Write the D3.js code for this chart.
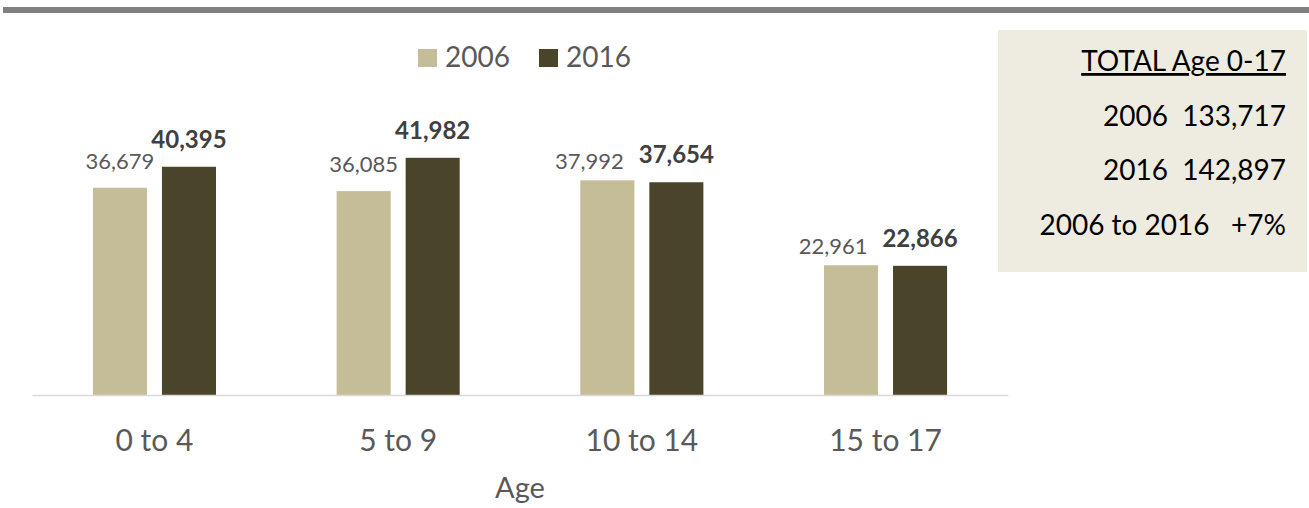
<!DOCTYPE html>
<html><head><meta charset="utf-8">
<script src="https://cdn.jsdelivr.net/npm/d3@7"></script>
<style>
html,body{margin:0;padding:0;background:#fff;}
svg{display:block;font-family:Lato,"Open Sans",sans-serif;}
</style></head>
<body>
<svg id="chart" width="1309" height="508"></svg>
<script>
const categories = ["0 to 4", "5 to 9", "10 to 14", "15 to 17"];
const seriesNames = ["2006", "2016"];
const values2006 = [36679, 36085, 37992, 22961];
const values2016 = [40395, 41982, 37654, 22866];
const colors = ["#c4bd97", "#4a452a"];
const totalLines = [
  {label: "TOTAL Age 0-17", underline: true},
  {label: "2006  133,717"},
  {label: "2016  142,897"},
  {label: "2006 to 2016   +7%"}
];

const svg = d3.select("#chart");
const fmt = d3.format(",");

// top rule
svg.append("rect").attr("x", 3).attr("y", 7).attr("width", 1306).attr("height", 6).attr("fill", "#808080");

const x0 = d3.scaleBand().domain(categories).range([32, 1008]).paddingInner(0.495).paddingOuter(0.25);
const x1 = d3.scaleBand().domain(seriesNames).range([0, x0.bandwidth()]).paddingInner(0.217).paddingOuter(0);
const y = d3.scaleLinear().domain([0, 50000]).range([395, 112.5]);

const data = categories.map((c, i) => ({cat: c, vals: [values2006[i], values2016[i]]}));

const g = svg.append("g");
const groups = g.selectAll("g.grp").data(data).join("g").attr("class", "grp")
  .attr("transform", d => `translate(${x0(d.cat)},0)`);

groups.selectAll("rect").data(d => d.vals.map((v, j) => ({s: seriesNames[j], v, j})))
  .join("rect")
  .attr("x", d => x1(d.s)).attr("width", x1.bandwidth())
  .attr("y", d => y(d.v)).attr("height", d => y(0) - y(d.v))
  .attr("fill", d => colors[d.j]);

groups.each(function() {
  const grp = d3.select(this);
  const labels = grp.selectAll("text.val").data(d => d.vals.map((v, j) => ({s: seriesNames[j], v, j})))
    .join("text").attr("class", "val")
    .attr("x", d => x1(d.s) + x1.bandwidth() / 2)
    .attr("y", d => y(d.v) - 19)
    .attr("text-anchor", "middle")
    .attr("font-size", d => d.j === 0 ? 22 : 24)
    .attr("font-weight", d => d.j === 0 ? "normal" : "bold")
    .attr("fill", d => d.j === 0 ? "#595959" : "#404040")
    .text(d => fmt(d.v));
  // Excel-style collision avoidance: nudge the 2006 label left/down when it would collide with the 2016 label
  const nodes = labels.nodes();
  const y0b = +nodes[0].getAttribute("y"), y1b = +nodes[1].getAttribute("y");
  const b0 = nodes[0].getBBox(), b1 = nodes[1].getBBox();
  if (Math.abs(y0b - y1b) < 17 && b0.x + b0.width > b1.x - 4) {
    const d0 = d3.select(nodes[0]);
    d0.attr("x", +d0.attr("x") - 18).attr("y", +d0.attr("y") + 8);
  }
});

// x axis
const xAxis = svg.append("g").attr("transform", "translate(0,395)")
  .call(d3.axisBottom(x0).tickSize(0).tickPadding(0));
xAxis.select(".domain").attr("stroke", "#d9d9d9").attr("stroke-width", 1.5);
xAxis.selectAll(".tick text").attr("font-size", 30).attr("font-family", "Lato, sans-serif")
  .attr("fill", "#595959").attr("dy", null).attr("y", 56);

svg.append("text").attr("x", 520).attr("y", 498).attr("text-anchor", "middle")
  .attr("font-size", 29).attr("fill", "#595959").text("Age");

// legend
const legend = svg.append("g");
const legX = [418, 539];
seriesNames.forEach((s, i) => {
  legend.append("rect").attr("x", legX[i]).attr("y", 49).attr("width", 19).attr("height", 18).attr("fill", colors[i]);
  legend.append("text").attr("x", legX[i] + 27).attr("y", 67).attr("font-size", 28).attr("fill", "#595959").text(s);
});

// totals box
svg.append("rect").attr("x", 998).attr("y", 30).attr("width", 309).attr("height", 242).attr("fill", "#eeece1");
const tb = svg.append("g");
totalLines.forEach((t, i) => {
  const tx = tb.append("text").attr("x", 1286).attr("y", 71 + i * 54.7).attr("text-anchor", "end")
    .attr("font-size", 28).attr("fill", "#000").style("white-space", "pre").text(t.label);
  if (t.underline) tx.attr("text-decoration", "underline");
});
</script>
</body></html>
